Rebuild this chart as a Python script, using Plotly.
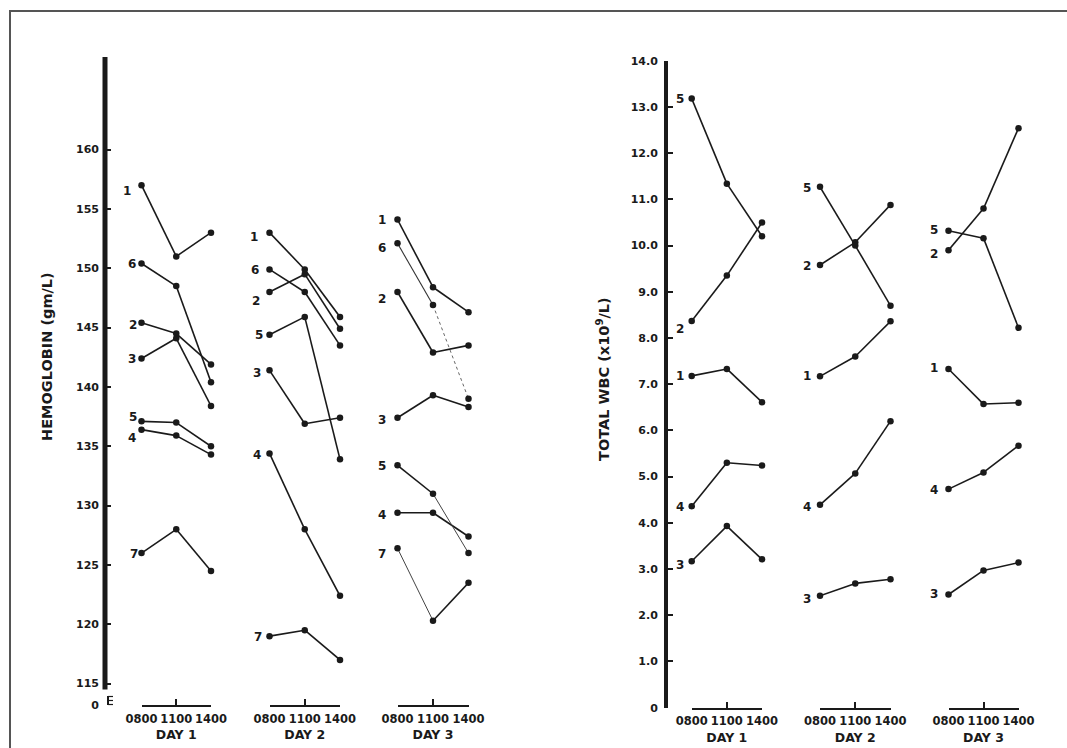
import plotly.graph_objects as go

W, H = 1067, 748

# ---------------- data ----------------
times = ["0800", "1100", "1400"]
days = ["DAY 1", "DAY 2", "DAY 3"]

# Hemoglobin (gm/L); 9 values per subject: day1 (0800,1100,1400), day2, day3
hb_subjects = ["1", "2", "3", "4", "5", "6", "7"]
hb_s1 = [157.0, 151.0, 153.0, 153.0, 149.9, 145.9, 154.1, 148.4, 146.3]
hb_s2 = [145.4, 144.5, 141.9, 148.0, 149.5, 144.9, 148.0, 142.9, 143.5]
hb_s3 = [142.4, 144.1, 138.4, 141.4, 136.9, 137.4, 137.4, 139.3, 138.3]
hb_s4 = [136.4, 135.9, 134.3, 134.4, 128.0, 122.4, 129.4, 129.4, 127.4]
hb_s5 = [137.1, 137.0, 135.0, 144.4, 145.9, 133.9, 133.4, 131.0, 126.0]
hb_s6 = [150.4, 148.5, 140.4, 149.9, 148.0, 143.5, 152.1, 146.9, 139.0]
hb_s7 = [126.0, 128.0, 124.5, 119.0, 119.5, 117.0, 126.4, 120.3, 123.5]
hb_ticks = [115, 120, 125, 130, 135, 140, 145, 150, 155, 160]

# Total WBC (x10^9/L)
wbc_subjects = ["1", "2", "3", "4", "5"]
wbc_s1 = [7.18, 7.33, 6.61, 7.17, 7.60, 8.36, 7.33, 6.57, 6.60]
wbc_s2 = [8.37, 9.35, 10.50, 9.58, 10.07, 10.88, 9.90, 10.80, 12.54]
wbc_s3 = [3.17, 3.93, 3.21, 2.42, 2.69, 2.78, 2.45, 2.97, 3.14]
wbc_s4 = [4.36, 5.30, 5.24, 4.39, 5.07, 6.20, 4.73, 5.09, 5.67]
wbc_s5 = [13.18, 11.34, 10.20, 11.27, 10.00, 8.70, 10.32, 10.16, 8.22]
wbc_ticks = [0, 1, 2, 3, 4, 5, 6, 7, 8, 9, 10, 11, 12, 13, 14]
wbc_ticktext = ["0", "1.0", "2.0", "3.0", "4.0", "5.0", "6.0", "7.0", "8.0",
                "9.0", "10.0", "11.0", "12.0", "13.0", "14.0"]

hb_values = [hb_s1, hb_s2, hb_s3, hb_s4, hb_s5, hb_s6, hb_s7]
wbc_values = [wbc_s1, wbc_s2, wbc_s3, wbc_s4, wbc_s5]

# ---------------- styling / layout helpers ----------------
def PX(x):
    return x / W

def PY(y):
    return 1 - y / H

FONT = "DejaVu Sans"
INK = "#1a1a1a"

HB_RANGE = [113.2, 167.8]
HB_DOM = [PY(705), PY(57)]
WBC_RANGE = [0, 14]
WBC_DOM = [PY(707.7), PY(60.7)]

left_day_px = [(141.5, 211.0), (269.5, 340.0), (397.5, 468.5)]
right_day_px = [(691.7, 762.0), (820.0, 890.5), (948.5, 1018.5)]

# label offsets (px) for subject labels, per day: {subject: (dx, dy_down)}
hb_label_nudge = [
    {"1": (-15, 6), "6": (-10, 0), "2": (-9, 2), "3": (-10, 1), "5": (-9, -4), "4": (-10, 8), "7": (-8, 1)},
    {"1": (-16, 4), "6": (-15, 1), "2": (-14, 9), "5": (-11, 0), "3": (-13, 3), "4": (-13, 2), "7": (-12, 1)},
    {"1": (-16, 0), "6": (-16, 5), "2": (-16, 7), "3": (-16, 2), "5": (-16, 1), "4": (-16, 2), "7": (-16, 6)},
]
wbc_label_nudge = [
    {"5": (-12, 0), "2": (-12, 8), "1": (-12, 0), "4": (-12, 1), "3": (-12, 4)},
    {"5": (-13, 1), "2": (-13, 1), "1": (-13, 0), "4": (-13, 2), "3": (-13, 3)},
    {"5": (-15, -1), "2": (-15, 4), "1": (-15, -1), "4": (-15, 1), "3": (-15, 0)},
]
# faint (poorly reproduced) segments in the scan: (day, subject, segment) -> style
hb_faint = {
    (2, "6", 0): dict(width=1.1, color="#333", dash="solid"),
    (2, "6", 1): dict(width=1.0, color="#666", dash="dot"),
    (2, "5", 1): dict(width=1.0, color="#444", dash="solid"),
    (2, "7", 0): dict(width=1.0, color="#444", dash="solid"),
}

fig = go.Figure()
annotations = []
shapes = []

def add_panel(values, subjects, yname, axis_offset, nudges, faint):
    for d in range(3):
        idx = axis_offset + d + 1
        xname = "x" if idx == 1 else "x%d" % idx
        xs = [0, 1, 2]
        for subj, vals in zip(subjects, values):
            ys = vals[3 * d:3 * d + 3]
            for seg in range(2):
                st = faint.get((d, subj, seg), dict(width=1.6, color=INK, dash="solid"))
                fig.add_trace(go.Scatter(
                    x=xs[seg:seg + 2], y=ys[seg:seg + 2], mode="lines",
                    line=st, xaxis=xname, yaxis=yname, hoverinfo="skip",
                    showlegend=False))
            fig.add_trace(go.Scatter(
                x=xs, y=ys, mode="markers",
                marker=dict(size=6.5, color=INK), cliponaxis=False,
                xaxis=xname, yaxis=yname, showlegend=False))
            dx, dy = nudges[d].get(subj, (-13, 0))
            annotations.append(dict(
                x=0, y=ys[0], xref=xname, yref=yname, text=subj,
                showarrow=False, xanchor="center", yanchor="middle",
                xshift=dx, yshift=-dy,
                font=dict(family=FONT, size=12, color=INK, weight="bold")))

add_panel(hb_values, hb_subjects, "y", 0, hb_label_nudge, hb_faint)
add_panel(wbc_values, wbc_subjects, "y2", 3, wbc_label_nudge, {})

layout = dict(
    template="none",
    width=W, height=H, margin=dict(l=0, r=0, t=0, b=0, pad=0), autosize=False,
    paper_bgcolor="white", plot_bgcolor="rgba(0,0,0,0)",
    showlegend=False,
)

tickfont_x = dict(family=FONT, size=11.5, color=INK, weight="bold")
for i in range(6):
    px0, px1 = (left_day_px + right_day_px)[i]
    key = "xaxis" if i == 0 else "xaxis%d" % (i + 1)
    layout[key] = dict(
        domain=[PX(px0), PX(px1)], range=[0, 2], anchor="y" if i < 3 else "y2",
        showline=True, linecolor=INK, linewidth=1.6,
        ticks="inside", ticklen=6, tickwidth=1.5, tickcolor=INK,
        tickvals=[0, 1, 2], ticktext=times, tickfont=tickfont_x, tickangle=0,
        ticklabelstandoff=2,
        showgrid=False, zeroline=False, fixedrange=True, automargin=False,
        title=dict(text=days[i % 3], standoff=6,
                   font=dict(family=FONT, size=12.5, color=INK, weight="bold")),
    )

tickfont_y = dict(family=FONT, size=11, color=INK, weight="bold")
layout["yaxis"] = dict(
    domain=HB_DOM, range=HB_RANGE, anchor="free", position=PX(105),
    showline=False, ticks="inside", ticklen=5, tickwidth=1.5, tickcolor=INK,
    tickvals=[HB_RANGE[0]] + hb_ticks,
    ticktext=["0"] + [str(t) for t in hb_ticks],
    tickfont=tickfont_y, ticklabelstandoff=6,
    showgrid=False, zeroline=False, fixedrange=True, automargin=False,
)
layout["yaxis2"] = dict(
    domain=WBC_DOM, range=WBC_RANGE, anchor="free", position=PX(666),
    showline=True, linecolor=INK, linewidth=4,
    ticks="inside", ticklen=5, tickwidth=1.5, tickcolor=INK,
    tickvals=wbc_ticks, ticktext=wbc_ticktext,
    tickfont=tickfont_y, ticklabelstandoff=4,
    showgrid=False, zeroline=False, fixedrange=True, automargin=False,
)

# thick broken hemoglobin axis
shapes.append(dict(type="line", xref="paper", yref="y", x0=PX(105), x1=PX(105),
                   y0=114.5, y1=HB_RANGE[1], line=dict(color=INK, width=5)))
# small break mark near zero
shapes.append(dict(type="line", xref="paper", yref="paper", x0=PX(108), x1=PX(108),
                   y0=PY(705), y1=PY(696), line=dict(color=INK, width=2)))
for yy in (696.5, 700.5, 704.5):
    shapes.append(dict(type="line", xref="paper", yref="paper", x0=PX(108), x1=PX(113),
                       y0=PY(yy), y1=PY(yy), line=dict(color=INK, width=1.2)))

# scanned page frame
shapes.append(dict(type="line", xref="paper", yref="paper", x0=PX(9), x1=1,
                   y0=PY(11), y1=PY(11), line=dict(color="#555", width=2)))
shapes.append(dict(type="line", xref="paper", yref="paper", x0=PX(10), x1=PX(10),
                   y0=PY(11), y1=0, line=dict(color="#555", width=2)))

annotations.append(dict(
    x=PX(47), y=PY(357), xref="paper", yref="paper", text="HEMOGLOBIN (gm/L)",
    textangle=-90, showarrow=False, xanchor="center", yanchor="middle",
    font=dict(family=FONT, size=14.5, color=INK, weight="bold")))
annotations.append(dict(
    x=PX(603), y=PY(379), xref="paper", yref="paper",
    text="TOTAL WBC (x10<sup>9</sup>/L)",
    textangle=-90, showarrow=False, xanchor="center", yanchor="middle",
    font=dict(family=FONT, size=14.5, color=INK, weight="bold")))

layout["shapes"] = shapes
layout["annotations"] = annotations
fig.update_layout(**layout)

fig.write_html("out.html")
